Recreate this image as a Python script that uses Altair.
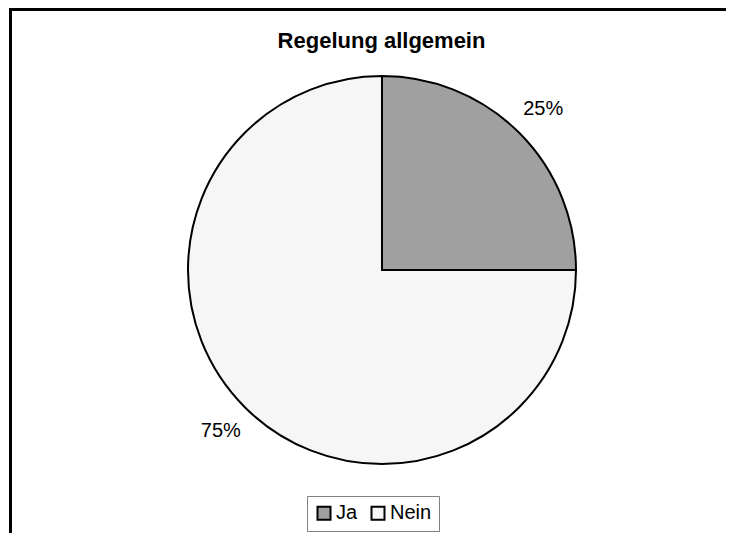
import altair as alt
import pandas as pd

title_text = "Regelung allgemein"
categories = ["Ja", "Nein"]
values = [25, 75]
labels = ["25%", "75%"]
colors = ["#a0a0a0", "#f6f6f6"]
order = [0, 1]

df = pd.DataFrame({"Antwort": categories, "Anteil": values, "Label": labels, "Reihenfolge": order})
one = pd.DataFrame({"k": [0]})
tdf = pd.DataFrame({"Titel": [title_text]})

W, H = 718, 465
CX, CY = 374, 202
FONT = "Liberation Sans"

base = alt.Chart(df).encode(
    theta=alt.Theta("Anteil:Q", stack=True),
    order=alt.Order("Reihenfolge:Q"),
)

pie = base.mark_arc(outerRadius=194, stroke="black", strokeWidth=2).encode(
    x=alt.value(CX),
    y=alt.value(CY),
    color=alt.Color(
        "Antwort:N",
        scale=alt.Scale(domain=categories, range=colors),
        legend=alt.Legend(
            title=None,
            orient="none",
            legendX=299,
            legendY=428,
            direction="horizontal",
            symbolType="square",
            symbolSize=169,
            symbolStrokeColor="black",
            symbolStrokeWidth=2,
            labelFont=FONT,
            labelFontSize=20,
            labelColor="black",
            labelOffset=2,
            columnPadding=9,
            padding=7,
            strokeColor="#808080",
        ),
    ),
)

text = base.mark_text(radius=228, font=FONT, fontSize=20, color="black").encode(
    x=alt.value(CX), y=alt.value(CY), text="Label:N"
)

title = alt.Chart(tdf).mark_text(
    font=FONT, fontSize=22, fontWeight="bold", color="black",
    align="center", baseline="alphabetic",
).encode(x=alt.value(373.5), y=alt.value(-20), text="Titel:N")

frame_top = alt.Chart(one).mark_rule(color="black", strokeWidth=3).encode(
    x=alt.value(1), x2=alt.value(W), y=alt.value(-58.5)
)
frame_left = alt.Chart(one).mark_rule(color="black", strokeWidth=3).encode(
    x=alt.value(2.5), y=alt.value(-60), y2=alt.value(H)
)

chart = alt.layer(pie, text, title, frame_top, frame_left).properties(
    width=W,
    height=H,
    padding={"left": 0, "top": 60, "right": 0, "bottom": 0},
    autosize=alt.AutoSizeParams(type="none"),
).configure_view(stroke=None)

chart.save("out.html", embed_options={"renderer": "svg", "actions": False})
